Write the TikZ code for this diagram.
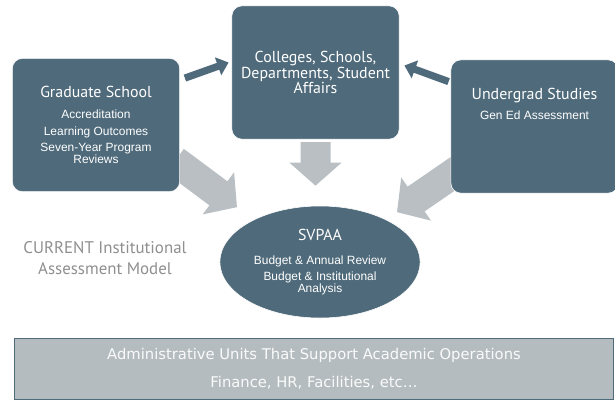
\documentclass[tikz,border=0pt]{standalone}
\usepackage{fontspec}
\setmainfont{Liberation Sans}
\newfontfamily\headfont{PT Sans}
\newfontfamily\barfont{DejaVu Sans}
\usetikzlibrary{shapes.geometric,arrows.meta,calc,backgrounds,positioning}
\definecolor{cSlate}{HTML}{4F6A7A}
\definecolor{cArrow}{HTML}{B9BFC2}
\definecolor{cBar}{HTML}{B5BCBF}
\definecolor{cNote}{HTML}{8F8F8F}
\newcommand{\headtxt}{\headfont\fontsize{11.3}{11}\selectfont}
\newcommand{\subtxt}{\fontsize{8.5}{8.5}\selectfont}
\tikzset{unitbox/.style={
  shape=rectangle,
  rounded corners=0.25cm,
  draw=white,
  fill=cSlate,
  text=white,
  align=center,
  font=\subtxt,
  minimum width=4.18cm,
  minimum height=3.33cm,
  }
}
\tikzset{reviewblob/.style={
  shape=ellipse,
  draw=white,
  fill=cSlate,
  text=white,
  align=center,
  font=\subtxt,
  minimum width=4.9cm,
  minimum height=2.8cm,
  }
}
\tikzset{bigarrow/.style={
  draw=cArrow,
  line width=0.75cm,
  -{Triangle[length=0.58cm,width=1.28cm]},
  }
}
\tikzset{smallarrow/.style={
  draw=cSlate,
  line width=0.18cm,
  -{Triangle[length=0.28cm,width=0.46cm]},
  }
}

\begin{document}
\begin{tikzpicture}[x=0.025cm,y=-0.025cm]
  \useasboundingbox (0,0) rectangle (615,402);
  \node [unitbox] (grad) at (96,125) {{\headtxt Graduate School}\\[6.5pt]
    Accreditation\\[3.3pt] Learning Outcomes\\[3.3pt]
    Seven-Year Program\\ Reviews};
  \node [unitbox, font=\headtxt] (coll) at (315.5,72.5) {Colleges, Schools,\\
    Departments, Student\\ Affairs};
  \node [unitbox] (ug) at (534.5,126.5) {};
  \node [text=white, align=center, font=\subtxt, below=0.6cm of ug.north] (ugtext)
    {{\headtxt Undergrad Studies}\\[4.6pt] Gen Ed Assessment};
  \node [reviewblob] (svpaa) at (320,262) {{\headtxt SVPAA}\\[8.3pt]
    Budget \& Annual Review\\[3pt] Budget \& Institutional\\
    Analysis};
  \node [text=cNote, align=center, font=\headfont\fontsize{12}{15.5}\selectfont]
    (note) at (105,258) {CURRENT Institutional\\ Assessment Model};
  \node [draw=cSlate, line width=0.8pt, fill=cBar, text=white!93!cBar,
    minimum width=14.95cm, minimum height=1.52cm, align=center,
    font=\barfont\fontsize{10.5}{12}\selectfont] (admin) at (314,369)
    {Administrative Units That Support Academic Operations\\[8.2pt]
    Finance, HR, Facilities, etc\dots};

  \begin{scope}[on background layer]
    \draw [smallarrow] ($(grad.north east)+(5,20)$) -- ($(coll.west)+(-3,-10)$);
    \draw [smallarrow] ($(ug.north west)+(-2,22)$) -- ($(coll.east)+(5,-7)$);
    \draw [bigarrow, shorten <=2pt] (coll.south) -- ($(svpaa.north)+(-4.5,-20)$);
    \draw [bigarrow] ($(grad.south east)+(-5,-31)$) -- ($(svpaa.north west)+(-12,-15)$);
    \draw [bigarrow] ($(ug.south west)+(10,-25)$) -- ($(svpaa.north east)+(6,-10)$);
  \end{scope}
\end{tikzpicture}
\end{document}
